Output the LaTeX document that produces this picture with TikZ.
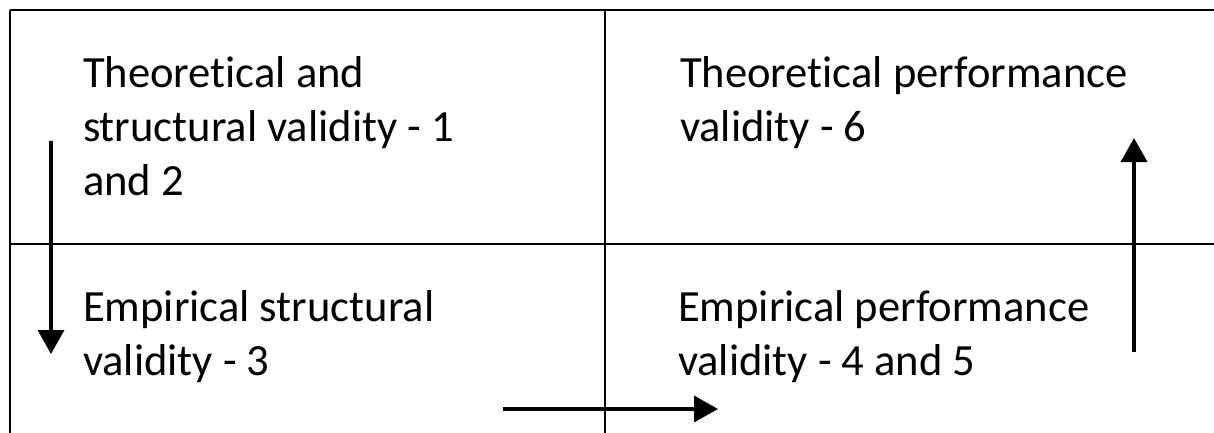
\documentclass[tikz,border=0pt]{standalone}
\usepackage{fontspec}
\setmainfont{Carlito}[Ligatures=NoCommon]
\usetikzlibrary{arrows.meta}
\tikzset{
  frame/.style={line width=2.6pt, black},
  grid/.style={line width=2.2pt, black},
  flow/.style={line width=3.6pt, black, -{Triangle[length=24pt,width=26pt]}},
  celltext/.style={anchor=base west, inner sep=0pt, outer sep=0pt, font=\fontsize{44.6pt}{54pt}\selectfont}
}
\begin{document}
\begin{tikzpicture}[x=1pt,y=-1pt]
\useasboundingbox (0,0) rectangle (1214,432);
\clip (0,0) rectangle (1214,432);
% table lines
\draw[frame] (10,10) -- (1230,10);
\draw[frame] (10,10) -- (10,450);
\draw[grid] (605,10) -- (605,450);
\draw[grid] (10,244) -- (1230,244);
% texts
\node[celltext] (tl) at (83,87) {\vtop{\hbox{Theoretical and}\hbox{structural validity - 1}\hbox{and 2}}};
\node[celltext] (tr) at (680,87) {\vtop{\hbox{Theoretical performance}\hbox{validity - 6}}};
\node[celltext] (bl) at (83,321) {\vtop{\hbox{Empirical structural}\hbox{validity - 3}}};
\node[celltext] (br) at (678,321) {\vtop{\hbox{Empirical performance}\hbox{validity - 4 and 5}}};
% arrows
\coordinate (d1) at (51,141);
\coordinate (d2) at (51,354);
\coordinate (r1) at (503,409);
\coordinate (r2) at (718,409);
\coordinate (u1) at (1134,352);
\coordinate (u2) at (1134,138);
\draw[flow] (d1) -- (d2);
\draw[flow] (r1) -- (r2);
\draw[flow] (u1) -- (u2);
\end{tikzpicture}
\end{document}
